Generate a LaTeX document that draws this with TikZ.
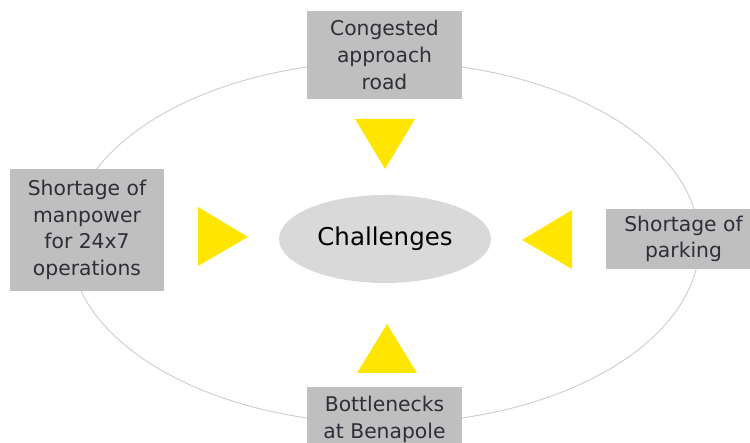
\documentclass[tikz,border=0pt]{standalone}
\usepackage{fontspec}
\setmainfont{DejaVu Sans}
\usetikzlibrary{shapes.geometric}
\definecolor{eyyellow}{HTML}{FFE600}
\definecolor{boxgray}{HTML}{BFBFBF}
\definecolor{hubgray}{HTML}{D9D9D9}
\definecolor{ringgray}{HTML}{CCCCCC}
\definecolor{txtgray}{HTML}{2E2E38}
\tikzset{
    issue/.style={fill=boxgray, text=txtgray, align=center, inner sep=0pt,
        minimum width=155pt, font=\fontsize{20.3}{26.7}\selectfont},
    hub/.style={ellipse, fill=hubgray, inner sep=0pt, minimum width=212pt,
        minimum height=88pt, font=\fontsize{24.5}{29}\selectfont},
    pointer/.style={fill=eyyellow},
    ring/.style={draw=ringgray, line width=0.9pt},
}
\begin{document}
\begin{tikzpicture}[x=1pt, y=-1pt]
        \useasboundingbox (0,0) rectangle (750,443);
        \clip (0,0) rectangle (750,443);

        \draw[ring] (384.5,242.5) ellipse [x radius=315pt, y radius=181pt];

        \node[hub] (hub) at (385,239) {Challenges};

        \node[issue, minimum height=88pt] (road) at (384.5,55) {Congested\\approach\\road};
        \node[issue, minimum width=154pt, minimum height=122pt] (manpower) at (87,230) {Shortage of\\manpower\\for 24x7\\operations};
        \node[issue, minimum height=60pt] (parking) at (683.5,239) {Shortage of\\parking};
        \node[issue, minimum height=65.4pt] (benapole) at (384.5,419.7) {Bottlenecks\\at Benapole};

        \fill[pointer] (355,119) -- (415,119) -- (385,169) -- cycle;
        \fill[pointer] (198,207) -- (248,237) -- (198,266) -- cycle;
        \fill[pointer] (572,210) -- (522,240) -- (572,269) -- cycle;
        \fill[pointer] (357,373) -- (417,373) -- (387,324) -- cycle;
    \end{tikzpicture}
\end{document}
